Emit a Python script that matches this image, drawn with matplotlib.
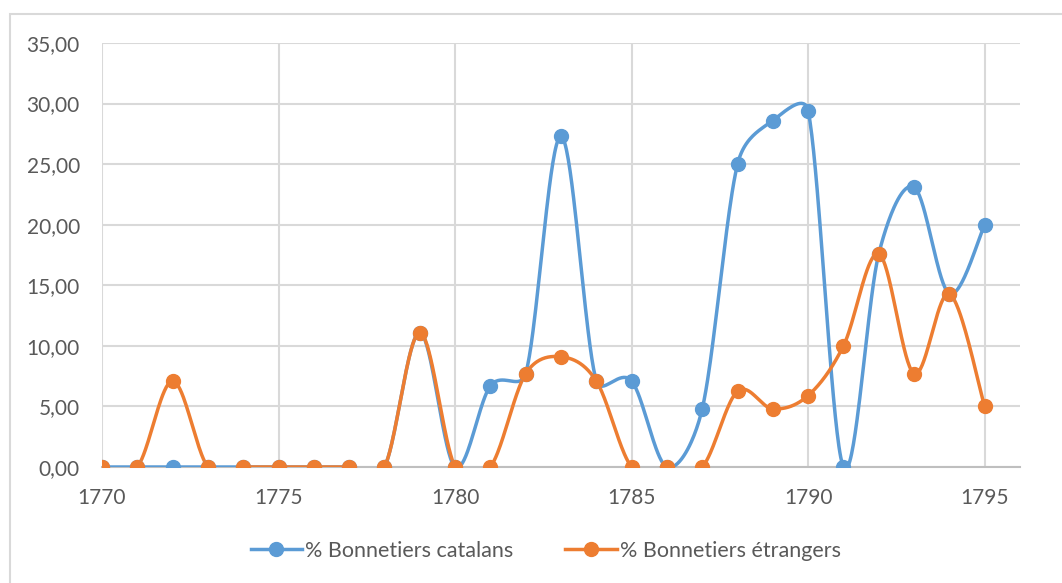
import numpy as np
import matplotlib
matplotlib.use("Agg")
import matplotlib.pyplot as plt
from matplotlib.patches import Rectangle
from matplotlib.ticker import FuncFormatter

plt.rcParams['font.family'] = ['Lato', 'DejaVu Sans']

years = list(range(1770, 1796))
catalans = [0, 0, 0, 0, 0, 0, 0, 0, 0, 11.1, 0, 6.7, 7.7, 27.3, 7.1, 7.1,
            0, 4.8, 25.0, 28.6, 29.4, 0, 17.6, 23.1, 14.3, 20.0]
etrangers = [0, 0, 7.1, 0, 0, 0, 0, 0, 0, 11.1, 0, 0, 7.7, 9.1, 7.1, 0,
             0, 0, 6.25, 4.8, 5.9, 10.0, 17.6, 7.7, 14.3, 5.0]
labels = ['% Bonnetiers catalans', '% Bonnetiers étrangers']
colors = ['#5B9BD5', '#ED7D31']

# pixel scale of the axes (used so the smoothing behaves like Excel's)
SX, SY = 35.3, 12.11


def smooth(x, y, n=40):
    # Excel-like smoothed line: Bezier segments, tangents capped at half the segment
    p = np.column_stack([np.asarray(x, float) * SX, np.asarray(y, float) * SY])
    p = np.vstack([p[:1], p, p[-1:]])
    t = np.linspace(0, 1, n)[:, None]
    out = []
    for i in range(1, len(p) - 2):
        p0, p1, p2, p3 = p[i - 1], p[i], p[i + 1], p[i + 2]
        d12 = np.hypot(*(p2 - p1))
        t1 = (p2 - p0) / 6
        t2 = (p3 - p1) / 6
        for tv in (t1, t2):
            ln = np.hypot(*tv)
            if ln > d12 / 2:
                tv *= (d12 / 2) / ln
        c1 = p1 + t1
        c2 = p2 - t2
        seg = (1 - t) ** 3 * p1 + 3 * (1 - t) ** 2 * t * c1 + 3 * (1 - t) * t ** 2 * c2 + t ** 3 * p2
        out.append(seg)
    out = np.vstack(out)
    return out[:, 0] / SX, out[:, 1] / SY


fig = plt.figure(figsize=(10.62, 5.83), dpi=100)
fig.patches.append(Rectangle((10 / 1062, -0.1), 1.2, (583 - 14) / 583 + 0.1,
                             transform=fig.transFigure, fill=False,
                             edgecolor='#D9D9D9', linewidth=1.5))
ax = fig.add_axes([102 / 1062, 1 - 467 / 583, (1020 - 102) / 1062, (467 - 43) / 583])

for vals, lab, col in zip([catalans, etrangers], labels, colors):
    sx, sy = smooth(years, vals)
    ax.plot(sx, sy, color=col, linewidth=2.5, solid_capstyle='round', zorder=3)
    ax.plot(years, vals, 'o', color=col, markersize=10, zorder=4)
    ax.plot([], [], '-o', color=col, linewidth=2.5, markersize=10, label=lab)

ax.set_xlim(1770, 1796)
ax.set_ylim(0, 35)
ax.set_xticks(range(1770, 1796, 5))
ax.set_yticks(range(0, 36, 5))
ax.yaxis.set_major_formatter(FuncFormatter(lambda v, p: f'{v:.2f}'.replace('.', ',')))
ax.grid(True, color='#D9D9D9', linewidth=1.5)
ax.set_axisbelow(True)
for s in ['top', 'right', 'left']:
    ax.spines[s].set_visible(False)
ax.spines['bottom'].set_color('#BFBFBF')
ax.spines['bottom'].set_linewidth(1.5)
ax.tick_params(length=0, labelsize=15, labelcolor='#595959', pad=16)
ax.tick_params(axis='x', pad=15)

fig.legend(loc='center', bbox_to_anchor=(0.514, 1 - 551 / 583), ncol=2, frameon=False,
           fontsize=15.5, labelcolor='#595959', handlelength=2.4, columnspacing=2.4,
           handletextpad=0.15)

fig.savefig('out.png', dpi=100)
